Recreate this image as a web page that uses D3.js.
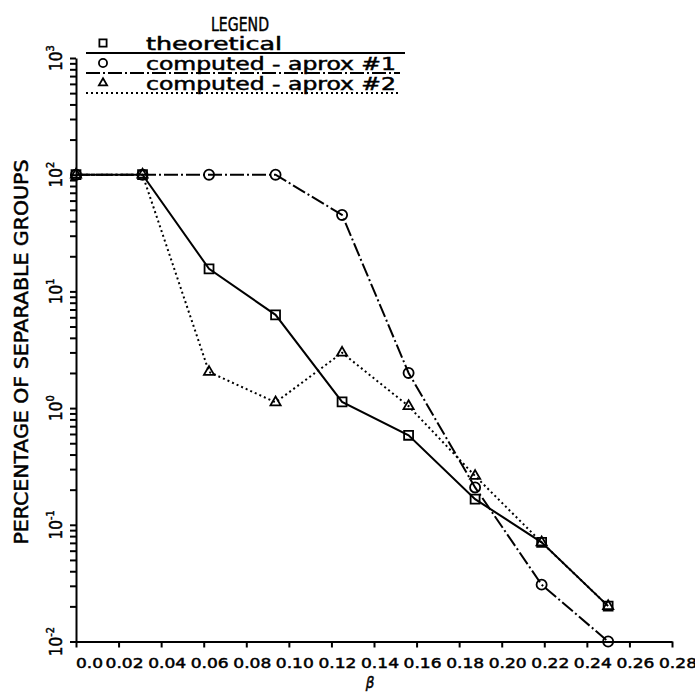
<!DOCTYPE html>
<html>
<head>
<meta charset="utf-8">
<script src="https://cdn.jsdelivr.net/npm/d3@7"></script>
<style>
  body { margin: 0; background: #fff; }
  svg { display: block; font-family: "DejaVu Sans Condensed", "DejaVu Sans", sans-serif; }
  svg text { fill: #000; stroke: #000; stroke-width: 0.45; }
  .axis path, .axis line { stroke: #000; stroke-width: 2; }
  .series { fill: none; stroke: #000; stroke-width: 2; }
  .mark { fill: none; stroke: #000; stroke-width: 1.8; }
</style>
</head>
<body>
<svg width="695" height="695"></svg>
<script>
// datos
const beta = [0, 0.03125, 0.0625, 0.09375, 0.125, 0.15625, 0.1875, 0.21875, 0.25];
const theoretical = [100, 100, 15.6, 6.3, 1.13, 0.585, 0.166, 0.0707, 0.0201];
const aprox1 = [100, 100, 100, 100, 45.2, 2.0, 0.209, 0.0307, 0.0100];
const aprox2 = [100, 100, 2.04, 1.12, 2.98, 1.04, 0.262, 0.0707, 0.0201];

const xTicks = [0, 0.02, 0.04, 0.06, 0.08, 0.10, 0.12, 0.14, 0.16, 0.18, 0.20, 0.22, 0.24, 0.26, 0.28];
const xTickLabels = ["0.0", "0.02", "0.04", "0.06", "0.08", "0.10", "0.12", "0.14", "0.16", "0.18", "0.20", "0.22", "0.24", "0.26", "0.28"];
const yExponents = [-2, -1, 0, 1, 2, 3];
const legendLabels = ["theoretical", "computed - aprox #1", "computed - aprox #2"];

const svg = d3.select("svg");
const x = d3.scaleLinear().domain([0, 0.28]).range([76, 672]);
const y = d3.scaleLog().domain([0.01, 1000]).range([641.5, 58]);

// ticks menores del eje logaritmico
const yTicks = [];
yExponents.forEach(e => {
  for (let m = 1; m < 10; m++) {
    const v = m * Math.pow(10, e);
    if (v <= 1000) yTicks.push(v);
  }
});

svg.append("g").attr("class", "axis")
  .attr("transform", `translate(${x(0)},0)`)
  .call(d3.axisLeft(y).tickValues(yTicks).tickSize(6).tickSizeOuter(0).tickFormat(""));

svg.append("g").attr("class", "axis")
  .attr("transform", `translate(0,${y(0.01)})`)
  .call(d3.axisBottom(x).tickValues(xTicks).tickSize(6).tickSizeOuter(0).tickFormat(""));

// etiquetas del eje x
svg.append("g").selectAll("text").data(xTicks).enter().append("text")
  .attr("x", (d, i) => i === 0 ? x(d) : x(d) + 6)
  .attr("y", 668)
  .attr("text-anchor", (d, i) => i === 0 ? "start" : "middle")
  .attr("font-size", 14)
  .attr("textLength", (d, i) => i === 0 ? 27 : 38)
  .attr("lengthAdjust", "spacingAndGlyphs")
  .text((d, i) => xTickLabels[i]);

// etiquetas del eje y (10 elevado a e), giradas
const yLab = svg.append("g").selectAll("text").data(yExponents).enter().append("text")
  .attr("transform", d => `translate(62,${y(Math.pow(10, d))}) rotate(-90)`)
  .attr("text-anchor", "middle")
  .attr("font-size", 17);
yLab.append("tspan").text("10");
yLab.append("tspan").attr("dy", -8).attr("font-size", 11).text(d => d);

svg.append("text")
  .attr("transform", "translate(28,352) rotate(-90)")
  .attr("text-anchor", "middle")
  .attr("font-size", 20)
  .attr("textLength", 385)
  .attr("lengthAdjust", "spacingAndGlyphs")
  .text("PERCENTAGE OF SEPARABLE GROUPS");

svg.append("text")
  .attr("x", 370).attr("y", 688)
  .attr("text-anchor", "middle")
  .attr("font-size", 15)
  .attr("font-style", "italic")
  .text("β");

// series
const series = [
  { values: theoretical, dash: null, symbol: d3.symbolSquare, size: 80 },
  { values: aprox1, dash: "14,3,2,3", symbol: d3.symbolCircle, size: 80 },
  { values: aprox2, dash: "2,3", symbol: d3.symbolTriangle, size: 45 }
];

const line = d3.line().x(d => x(d[0])).y(d => y(d[1]));

series.forEach(s => {
  const pts = beta.map((b, i) => [b, s.values[i]]);
  svg.append("path").attr("class", "series")
    .attr("d", line(pts))
    .attr("stroke-dasharray", s.dash);
  svg.append("g").selectAll("path").data(pts).enter().append("path")
    .attr("class", "mark")
    .attr("transform", d => `translate(${x(d[0])},${y(d[1])})`)
    .attr("d", d3.symbol().type(s.symbol).size(s.size));
});

// leyenda
svg.append("text")
  .attr("x", 240).attr("y", 31)
  .attr("text-anchor", "middle")
  .attr("font-size", 20)
  .attr("textLength", 58)
  .attr("lengthAdjust", "spacingAndGlyphs")
  .text("LEGEND");

const rowY = [50, 70, 90];
const rowLen = [136, 250, 250];
const rowEnd = [405, 400, 400];
series.forEach((s, i) => {
  svg.append("path").attr("class", "mark")
    .attr("transform", `translate(103,${rowY[i] - 7})`)
    .attr("d", d3.symbol().type(s.symbol).size(s.size * 0.65));
  svg.append("text")
    .attr("x", 146).attr("y", rowY[i])
    .attr("font-size", 17)
    .attr("textLength", rowLen[i])
    .attr("lengthAdjust", "spacingAndGlyphs")
    .text(legendLabels[i]);
  svg.append("line").attr("class", "series")
    .attr("x1", 86).attr("x2", rowEnd[i])
    .attr("y1", rowY[i] + 3).attr("y2", rowY[i] + 3)
    .attr("stroke-dasharray", s.dash);
});
</script>
</body>
</html>
